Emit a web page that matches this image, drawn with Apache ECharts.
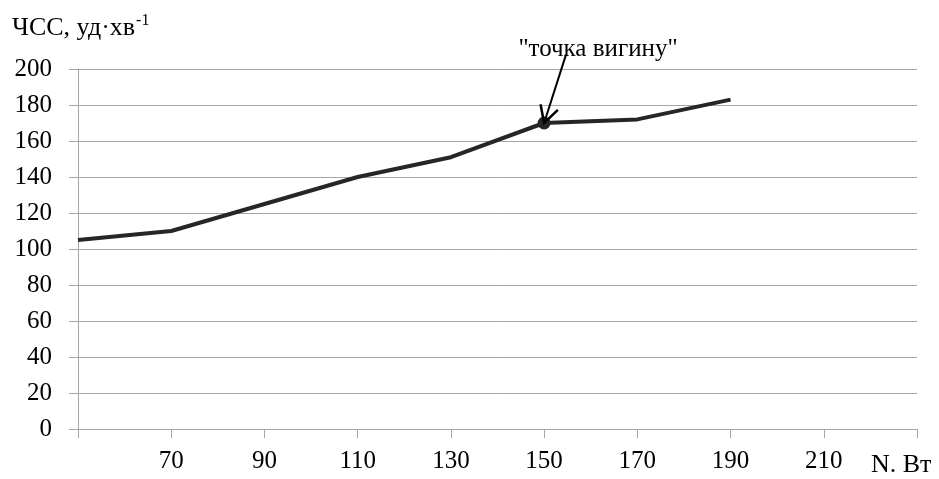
<!DOCTYPE html>
<html>
<head>
<meta charset="utf-8">
<script src="https://cdn.jsdelivr.net/npm/echarts@6/dist/echarts.min.js"></script>
<style>
  html, body { margin: 0; padding: 0; background: #fff; }
  #chart { width: 939px; height: 479px; }
</style>
</head>
<body>
<div id="chart"></div>
<script>
// потужність, Вт
var power = [50, 70, 90, 110, 130, 150, 170, 190];
// ЧСС, уд/хв
var hr = [105, 110, 125, 140, 151, 170, 172, 183];
// точка вигину
var bendPoint = [150, 170];
var arrowStart = [154.7, 208];

var font = '"Liberation Serif", "DejaVu Serif", serif';
var gridColor = '#a6a6a6';

var myChart = echarts.init(document.getElementById('chart'));
var option = {
  backgroundColor: '#fff',
  animation: false,
  grid: {
    left: 78,
    right: 22,
    top: 69,
    bottom: 50
  },
  xAxis: {
    type: 'value',
    min: 50,
    max: 230,
    interval: 20,
    axisLine: { show: true, lineStyle: { color: gridColor, width: 1 } },
    axisTick: { show: true, length: 9, lineStyle: { color: gridColor } },
    splitLine: { show: false },
    axisLabel: {
      margin: 20,
      color: '#000',
      fontFamily: font,
      fontSize: 25,
      formatter: function (v) {
        return (v === 50 || v === 230) ? '' : v;
      }
    }
  },
  yAxis: {
    type: 'value',
    min: 0,
    max: 200,
    interval: 20,
    name: '{a|ЧСС, уд·хв}{s|-1}',
    nameLocation: 'end',
    nameGap: 28,
    nameTextStyle: {
      align: 'left',
      padding: [0, 0, 0, -66],
      rich: {
        a: { fontFamily: font, fontSize: 26, color: '#000', verticalAlign: 'bottom' },
        s: { fontFamily: font, fontSize: 16, color: '#000', verticalAlign: 'top', padding: [0, 0, 12, 1] }
      }
    },
    axisLine: { show: true, lineStyle: { color: gridColor, width: 1 } },
    axisTick: { show: true, length: 9, lineStyle: { color: gridColor } },
    splitLine: { show: true, lineStyle: { color: gridColor, width: 1 } },
    axisLabel: {
      margin: 26,
      color: '#000',
      fontFamily: font,
      fontSize: 25
    }
  },
  series: [{
    type: 'line',
    data: power.map(function (p, i) { return [p, hr[i]]; }),
    showSymbol: false,
    symbol: 'none',
    lineStyle: { color: '#262626', width: 4 },
    markPoint: {
      symbol: 'circle',
      symbolSize: 13,
      itemStyle: { color: '#262626' },
      label: { show: false },
      data: [{ coord: bendPoint }]
    }
  }]
};
myChart.setOption(option);

// стрілка до точки вигину (початок лежить вище межі осі, тому graphic)
var p0 = myChart.convertToPixel({ seriesIndex: 0 }, arrowStart);
var p1 = myChart.convertToPixel({ seriesIndex: 0 }, bendPoint);
var ang = Math.atan2(p1[1] - p0[1], p1[0] - p0[0]);
var headLen = 19, headAng = 0.5;
var h1 = [p1[0] - headLen * Math.cos(ang - headAng), p1[1] - headLen * Math.sin(ang - headAng)];
var h2 = [p1[0] - headLen * Math.cos(ang + headAng), p1[1] - headLen * Math.sin(ang + headAng)];

myChart.setOption({
  graphic: [{
    type: 'line',
    shape: { x1: p0[0], y1: p0[1], x2: p1[0], y2: p1[1] },
    style: { stroke: '#000', lineWidth: 2 },
    z: 10
  }, {
    type: 'polyline',
    shape: { points: [h1, p1, h2] },
    style: { stroke: '#000', lineWidth: 2.5, fill: null },
    z: 10
  }, {
    type: 'text',
    x: 598,
    y: 37,
    style: {
      text: '"точка вигину"',
      fontFamily: font,
      fontSize: 25,
      fill: '#000',
      align: 'center'
    }
  }, {
    type: 'text',
    x: 871,
    y: 452,
    style: {
      text: 'N. Вт',
      fontFamily: font,
      fontSize: 26,
      fill: '#000'
    }
  }]
});
</script>
</body>
</html>
